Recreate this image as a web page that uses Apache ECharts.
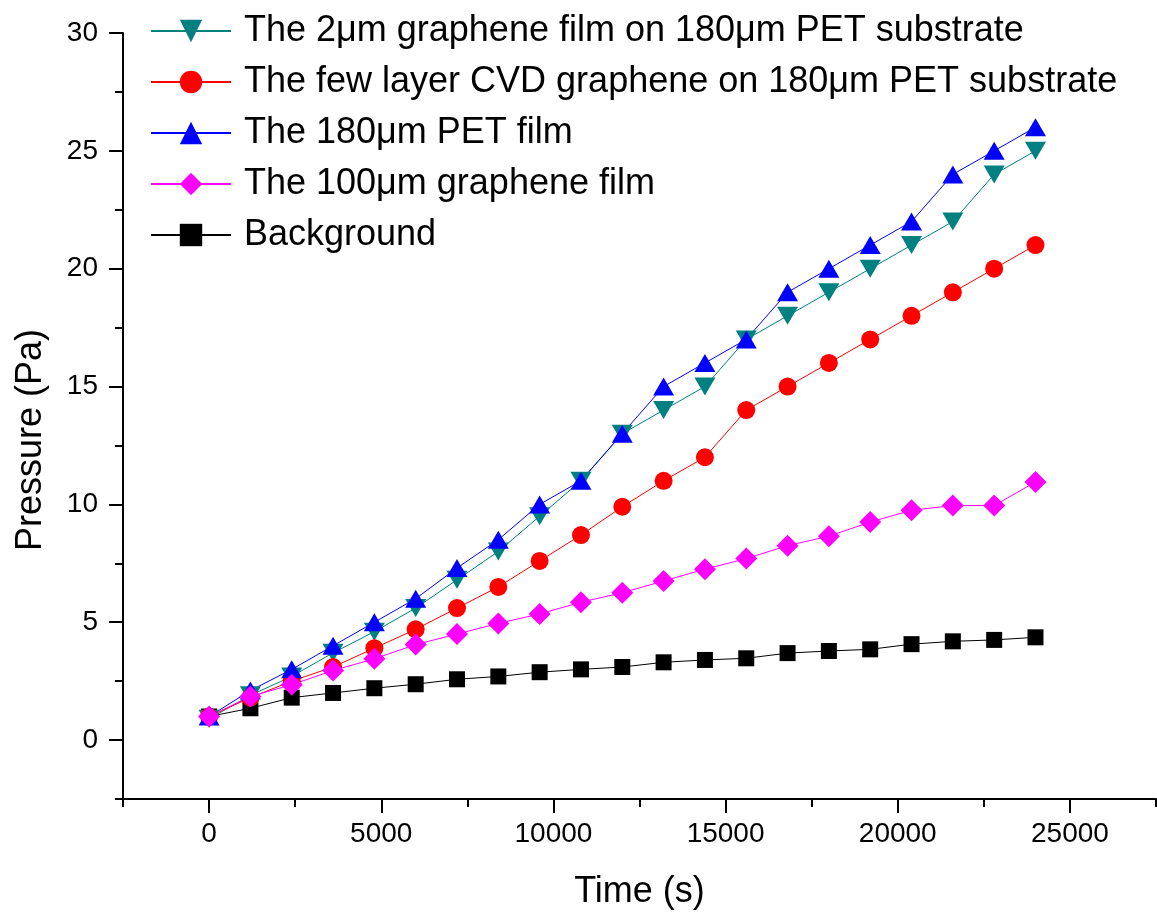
<!DOCTYPE html>
<html>
<head>
<meta charset="utf-8">
<script src="https://cdn.jsdelivr.net/npm/echarts@6/dist/echarts.min.js"></script>
<style>
  html, body { margin: 0; padding: 0; background: #fff; }
  #chart { width: 1157px; height: 915px; }
</style>
</head>
<body>
<div id="chart"></div>
<script>
// time axis (s)
const timeS = [0, 1200, 2400, 3600, 4800, 6000, 7200, 8400, 9600, 10800, 12000,
  13200, 14400, 15600, 16800, 18000, 19200, 20400, 21600, 22800, 24000];

// pressure (Pa)
const film2um = [0.9, 1.9, 2.7, 3.7, 4.6, 5.6, 6.8, 8.0, 9.5, 11.0, 13.0,
  14.0, 15.0, 17.0, 18.0, 19.0, 20.0, 21.0, 22.0, 24.0, 25.0];
const cvdFewLayer = [1.0, 1.8, 2.5, 3.1, 3.9, 4.7, 5.6, 6.5, 7.6, 8.7, 9.9,
  11.0, 12.0, 14.0, 15.0, 16.0, 17.0, 18.0, 19.0, 20.0, 21.0];
const pet180 = [1.0, 2.1, 3.0, 4.0, 5.0, 6.0, 7.3, 8.5, 10.0, 11.0, 13.0,
  15.0, 16.0, 17.0, 19.0, 20.0, 21.0, 22.0, 24.0, 25.0, 26.0];
const film100um = [1.0, 1.85, 2.35, 2.95, 3.45, 4.05, 4.5, 4.95, 5.35, 5.85, 6.25,
  6.75, 7.25, 7.7, 8.25, 8.65, 9.25, 9.75, 9.95, 9.95, 10.95];
const background = [1.0, 1.35, 1.8, 2.0, 2.2, 2.37, 2.58, 2.7, 2.88, 3.0, 3.1,
  3.3, 3.4, 3.47, 3.69, 3.78, 3.85, 4.07, 4.19, 4.25, 4.36];

const xMajorTicks = [0, 5000, 10000, 15000, 20000, 25000];
const xMinorTicks = [-2500, 2500, 7500, 12500, 17500, 22500, 27500];
const yMajorTicks = [0, 5, 10, 15, 20, 25, 30];
const yMinorTicks = [-2.5, 2.5, 7.5, 12.5, 17.5, 22.5, 27.5];

const names = [
  'The 2μm graphene film on 180μm PET substrate',
  'The few layer CVD graphene on 180μm PET substrate',
  'The 180μm PET film',
  'The 100μm graphene film',
  'Background'
];

const FONT = 'Liberation Sans, Arial, sans-serif';
const pair = (ys) => timeS.map((t, i) => [t, ys[i]]);

const chart = echarts.init(document.getElementById('chart'));

const axisLine = { show: true, onZero: false, lineStyle: { color: '#000', width: 2 } };
const tickStyle = { color: '#000', width: 2 };
const plain = (v) => String(v);

const mkSeries = (name, ys, color, symbol, size) => ({
  name: name,
  type: 'line',
  data: pair(ys),
  symbol: symbol,
  symbolSize: size,
  showSymbol: true,
  lineStyle: { color: color, width: 1 },
  itemStyle: { color: color },
  emphasis: { disabled: true }
});

chart.setOption({
  animation: false,
  backgroundColor: '#fff',
  grid: { left: 123, right: 1, top: 33, bottom: 113, containLabel: false },
  legend: {
    data: names,
    orient: 'vertical',
    left: 145,
    top: 6,
    itemWidth: 80,
    itemHeight: 28,
    itemGap: 11,
    textStyle: { fontSize: 36, fontFamily: FONT, color: '#000', lineHeight: 40, padding: [0, 0, 0, 8] }
  },
  xAxis: [
    {
      type: 'value', min: -2500, max: 27500, position: 'bottom',
      axisLine: axisLine,
      axisTick: { show: true, customValues: xMajorTicks, length: 14, lineStyle: tickStyle },
      axisLabel: { customValues: xMajorTicks, formatter: plain, fontSize: 28, fontFamily: FONT, color: '#000', margin: 21 },
      splitLine: { show: false },
      name: 'Time (s)', nameLocation: 'middle', nameGap: 75,
      nameTextStyle: { fontSize: 36, fontFamily: FONT, color: '#000' }
    },
    {
      type: 'value', min: -2500, max: 27500, position: 'bottom',
      axisLine: { show: false, onZero: false },
      axisTick: { show: true, customValues: xMinorTicks, length: 8, lineStyle: tickStyle },
      axisLabel: { show: false },
      splitLine: { show: false }
    }
  ],
  yAxis: [
    {
      type: 'value', min: -2.5, max: 30, position: 'left',
      axisLine: axisLine,
      axisTick: { show: true, customValues: yMajorTicks, length: 14, lineStyle: tickStyle },
      axisLabel: { customValues: yMajorTicks, formatter: plain, fontSize: 28, fontFamily: FONT, color: '#000', margin: 25 },
      splitLine: { show: false },
      name: 'Pressure (Pa)', nameLocation: 'middle', nameGap: 74,
      nameTextStyle: { fontSize: 36, fontFamily: FONT, color: '#000', padding: [0, 48, 0, 0] }
    },
    {
      type: 'value', min: -2.5, max: 30, position: 'left',
      axisLine: { show: false, onZero: false },
      axisTick: { show: true, customValues: yMinorTicks, length: 8, lineStyle: tickStyle },
      axisLabel: { show: false },
      splitLine: { show: false }
    }
  ],
  series: [
    mkSeries(names[4], background, '#000000', 'rect', 16),
    mkSeries(names[0], film2um, '#008080', 'path://M0,0L20,0L10,17Z', [21, 18]),
    mkSeries(names[1], cvdFewLayer, '#ff0000', 'circle', 18),
    mkSeries(names[2], pet180, '#0000ff', 'triangle', [21, 18]),
    mkSeries(names[3], film100um, '#ff00ff', 'diamond', [22, 22])
  ]
});
</script>
</body>
</html>
